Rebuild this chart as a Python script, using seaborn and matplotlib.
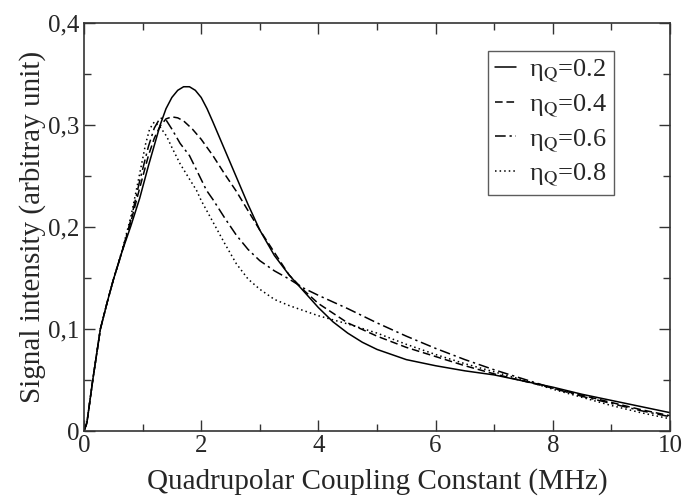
import numpy as np
import pandas as pd
import matplotlib
matplotlib.use("Agg")
import matplotlib.pyplot as plt
from matplotlib.ticker import MultipleLocator, FuncFormatter
import seaborn as sns

# values: quadrupolar coupling constant (MHz) vs signal
x_02 = [0, 0.05, 0.15, 0.28, 0.4, 0.5, 0.65, 0.8, 0.95, 1.1, 1.2, 1.3, 1.4, 1.5, 1.6,
        1.7, 1.8, 1.9, 2.0, 2.1, 2.2, 2.4, 2.6, 2.8, 3.0, 3.25, 3.5, 3.75, 4.0, 4.25,
        4.5, 4.75, 5.0, 5.5, 6.0, 6.5, 7.0, 7.5, 8.0, 8.5, 9.0, 9.5, 10.0]
eta_02 = [0, 0.008, 0.05, 0.1, 0.127, 0.148, 0.176, 0.201, 0.228, 0.26, 0.28, 0.3,
          0.316, 0.327, 0.334, 0.3375, 0.3375, 0.334, 0.327, 0.316, 0.303, 0.276, 0.249,
          0.222, 0.197, 0.172, 0.153, 0.137, 0.121, 0.107, 0.096, 0.087, 0.08, 0.07,
          0.064, 0.059, 0.055, 0.049, 0.043, 0.036, 0.03, 0.024, 0.018]

x_04 = [0, 0.05, 0.15, 0.28, 0.4, 0.5, 0.65, 0.8, 0.95, 1.1, 1.2, 1.3, 1.4, 1.5, 1.6,
        1.7, 1.85, 2.0, 2.2, 2.4, 2.6, 2.8, 3.0, 3.25, 3.5, 3.75, 4.0, 4.5, 5.0, 5.5,
        6.0, 6.5, 7.0, 7.5, 8.0, 8.5, 9.0, 9.5, 10.0]
eta_04 = [0, 0.008, 0.05, 0.1, 0.127, 0.148, 0.176, 0.205, 0.238, 0.27, 0.287, 0.299,
          0.306, 0.308, 0.307, 0.304, 0.296, 0.286, 0.27, 0.252, 0.235, 0.216, 0.197,
          0.175, 0.153, 0.138, 0.125, 0.106, 0.093, 0.082, 0.073, 0.064, 0.056, 0.049,
          0.042, 0.035, 0.028, 0.021, 0.015]

x_06 = [0, 0.05, 0.15, 0.28, 0.4, 0.5, 0.65, 0.8, 0.95, 1.1, 1.2, 1.3, 1.4, 1.5, 1.64,
        1.8, 1.92, 2.09, 2.2, 2.4, 2.6, 2.8, 3.0, 3.25, 3.5, 3.75, 4.0, 4.5, 5.0, 5.5,
        6.0, 6.5, 7.0, 7.5, 8.0, 8.5, 9.0, 9.5, 10.0]
eta_06 = [0, 0.008, 0.05, 0.1, 0.127, 0.148, 0.176, 0.207, 0.245, 0.279, 0.297, 0.307,
          0.305, 0.296, 0.282, 0.27, 0.256, 0.236, 0.227, 0.209, 0.192, 0.178, 0.167,
          0.157, 0.149, 0.14, 0.133, 0.12, 0.106, 0.093, 0.081, 0.07, 0.06, 0.051,
          0.042, 0.034, 0.027, 0.02, 0.014]

x_08 = [0, 0.05, 0.15, 0.28, 0.4, 0.5, 0.65, 0.8, 0.95, 1.05, 1.12, 1.2, 1.3, 1.41,
        1.5, 1.64, 1.8, 1.92, 2.0, 2.2, 2.4, 2.6, 2.8, 3.0, 3.25, 3.5, 3.75, 4.0, 4.5,
        5.0, 5.5, 6.0, 6.5, 7.0, 7.5, 8.0, 8.5, 9.0, 9.5, 10.0]
eta_08 = [0, 0.008, 0.05, 0.1, 0.127, 0.148, 0.177, 0.21, 0.252, 0.281, 0.296, 0.303,
          0.298, 0.289, 0.278, 0.262, 0.247, 0.236, 0.226, 0.205, 0.184, 0.164, 0.149,
          0.139, 0.129, 0.123, 0.118, 0.113, 0.105, 0.096, 0.085, 0.075, 0.066, 0.058,
          0.05, 0.041, 0.033, 0.025, 0.018, 0.012]

labels = ["η$_\\mathrm{Q}$=0.2", "η$_\\mathrm{Q}$=0.4",
          "η$_\\mathrm{Q}$=0.6", "η$_\\mathrm{Q}$=0.8"]
xs = [x_02, x_04, x_06, x_08]
series = [eta_02, eta_04, eta_06, eta_08]
styles = ["-", (0, (5, 2.5)), (0, (7, 2.5, 1.5, 2.5)), (0, (1, 2))]

sns.set_style("ticks")
plt.rcParams["font.family"] = ["Liberation Serif", "DejaVu Serif"]
plt.rcParams["mathtext.fontset"] = "stix"

fig = plt.figure(figsize=(6.86, 5.03), dpi=100)
ax = fig.add_axes([0.1224, 0.1431, 0.8543, 0.8112])

for x, y, lab, ls in zip(xs, series, labels, styles):
    df = pd.DataFrame({"x": x, "y": y})
    sns.lineplot(data=df, x="x", y="y", ax=ax, color="black", lw=1.1,
                 linestyle=ls, label=lab)

ax.set_xlim(0, 10)
ax.set_ylim(0, 0.4)
ax.xaxis.set_major_locator(MultipleLocator(2))
ax.xaxis.set_minor_locator(MultipleLocator(1))
ax.yaxis.set_major_locator(MultipleLocator(0.1))
ax.yaxis.set_minor_locator(MultipleLocator(0.05))
ax.yaxis.set_major_formatter(FuncFormatter(
    lambda v, p: "0" if abs(v) < 1e-9 else f"{v:.1f}".replace(".", ",")))

ax.tick_params(which="both", direction="in", top=True, right=True,
               labelsize=18, width=1.0, color="#333333")
ax.tick_params(which="major", length=8, pad=3)
ax.tick_params(which="minor", length=5)
for s in ax.spines.values():
    s.set_linewidth(1.2)
    s.set_color("#333333")

ax.set_xlabel("Quadrupolar Coupling Constant (MHz)", fontsize=21, labelpad=8)
ax.set_ylabel("Signal intensity (arbitray unit)", fontsize=21, labelpad=2)

leg = ax.legend(loc="upper right", bbox_to_anchor=(0.904, 0.931), fontsize=19,
                frameon=True, fancybox=False, edgecolor="#333333",
                handlelength=0.8, handletextpad=0.5, labelspacing=0.3,
                borderpad=0.25, borderaxespad=0)
leg.get_frame().set_linewidth(1.0)

plt.savefig("out.png", dpi=100)
